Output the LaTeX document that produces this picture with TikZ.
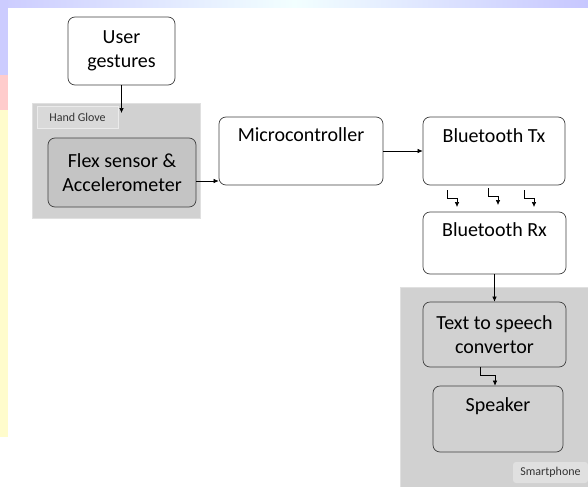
\documentclass[tikz,border=0pt]{standalone}
\usepackage{fontspec}
\setmainfont{Carlito}
\usetikzlibrary{arrows.meta}

\begin{document}
\begin{tikzpicture}[
            x=1pt, y=-1pt,
            blk/.style={draw=black!75, rounded corners=7pt, fill=white, line width=0.7pt, inner sep=0pt, align=center},
            grp/.style={fill=black!18, draw=black!12},
            tag/.style={font={\fontsize{12pt}{14pt}\selectfont}, text=black!80, inner sep=0pt},
            conn/.style={-{Latex[length=5pt,width=4.5pt]}, line width=0.6pt},
            font={\fontsize{20pt}{24pt}\selectfont}
        ]
        \useasboundingbox (0,0) rectangle (588,487);
        % slide background strips
        \shade[left color=blue!20, right color=blue!22, middle color=cyan!5] (0,0) rectangle (588,8);
        \fill[blue!20] (0,0) rectangle (8,75);
        \fill[red!20] (0,75) rectangle (8,110);
        \fill[yellow!20] (0,110) rectangle (8,437);

        % groups
        \node[grp, minimum width=168pt, minimum height=115pt, inner sep=0pt] (glove) at (116,160.5) {};
        \node[tag, fill=black!15, draw=black!8, minimum width=81pt, minimum height=22pt] (glovetag) at (77.5,117) {Hand Glove};
        \fill[black!18] (400,287) rectangle (588,487);
        \draw[black!12] (400,487) -- (400,287) -- (588,287);
        \coordinate (phone) at (494,387);
        \node[tag, fill=black!12, rounded corners=3pt, minimum width=75pt, minimum height=21pt] (phonetag) at (550.5,472.5) {Smartphone};

        % blocks
        \node[blk, minimum width=107pt, minimum height=68pt] (user) at (121.5,51) {User\\gestures};
        \node[blk, fill=black!23, minimum width=148pt, minimum height=69pt] (flex) at (122,172.5) {Flex sensor \&\\Accelerometer};
        \node[blk, minimum width=164pt, minimum height=68pt,
              label={[anchor=base, yshift=-25pt]north:Microcontroller}] (micro) at (301,151) {};
        \node[blk, minimum width=142pt, minimum height=68pt,
              label={[anchor=base, yshift=-26pt]north:Bluetooth Tx}] (tx) at (494,151) {};
        \node[blk, minimum width=143pt, minimum height=62pt,
              label={[anchor=base, yshift=-25pt]north:Bluetooth Rx}] (rx) at (494.5,243) {};
        \node[blk, fill=black!18, minimum width=143pt, minimum height=65pt] (tts) at (494.5,334.5) {Text to speech\\convertor};
        \node[blk, fill=black!18, minimum width=130pt, minimum height=66pt,
              label={[anchor=base, yshift=-26pt]north:Speaker}] (spk) at (498,419) {};

        % connectors
        \coordinate (gin) at (121.5,113);
        \draw[conn] (user.south) -- (gin);
        \draw[conn] ([yshift=-8.5pt]flex.east) -- ([yshift=-8.5pt]flex.east -| micro.west);
        \draw[conn] (micro.east) -- (tx.west);
        % wireless link
        \foreach \x/\y in {447/190, 488/188, 524/190}
            \draw[conn] (\x,\y) -- ++(0,8) -- ++(10,0) -- ++(0,9);
        \draw[conn] (rx.south) -- (tts.north);
        \draw[conn] ([xshift=-14.5pt]tts.south) -- ++(0,8) -| ([xshift=-3pt]spk.north);
    \end{tikzpicture}
\end{document}
